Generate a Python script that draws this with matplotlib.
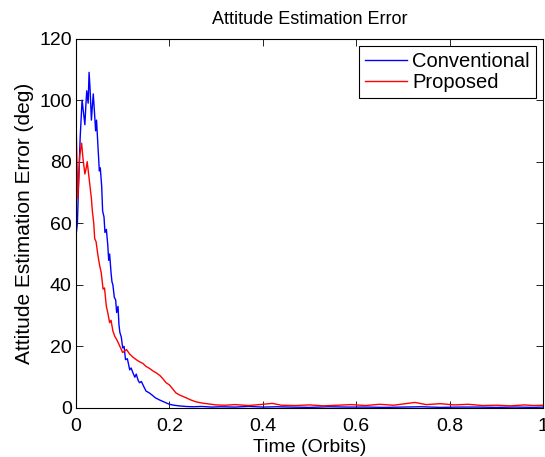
import numpy as np
import matplotlib.pyplot as plt

plt.rcParams['font.family'] = ['Liberation Sans', 'DejaVu Sans']

# Conventional (blue)
t_conv = [0.000, 0.003, 0.006, 0.009, 0.013, 0.016, 0.019, 0.021, 0.023, 0.026,
          0.028, 0.030, 0.033, 0.035, 0.037, 0.040, 0.042, 0.044, 0.047, 0.050,
          0.052, 0.055, 0.057, 0.060, 0.062, 0.065, 0.068, 0.070, 0.072, 0.075,
          0.077, 0.079, 0.082, 0.085, 0.087, 0.090, 0.092, 0.094, 0.097, 0.100,
          0.103, 0.106, 0.110, 0.115, 0.118, 0.122, 0.126, 0.129, 0.133, 0.136,
          0.140, 0.145, 0.150, 0.157, 0.163, 0.170, 0.179, 0.188, 0.200, 0.210,
          0.220, 0.235, 0.250, 0.270, 0.290, 0.310, 0.340, 0.370, 0.400, 0.430,
          0.460, 0.500, 0.540, 0.580, 0.620, 0.660, 0.700, 0.740, 0.780, 0.820,
          0.860, 0.900, 0.940, 0.980, 1.000]
e_conv = [56.0, 60.0, 75.0, 88.0, 100.0, 96.0, 92.0, 98.0, 103.0, 99.0,
          109.0, 104.0, 93.5, 98.0, 102.0, 95.0, 90.0, 93.5, 85.0, 77.0,
          78.0, 72.0, 64.0, 62.0, 57.0, 58.0, 53.0, 48.0, 50.0, 44.0,
          41.0, 40.0, 36.0, 35.0, 31.0, 33.0, 27.0, 24.5, 23.0, 19.5,
          20.0, 15.7, 16.0, 12.4, 13.0, 11.4, 10.0, 11.0, 9.0, 8.2,
          8.6, 7.0, 5.5, 4.9, 4.2, 3.3, 2.6, 2.0, 1.2, 0.9,
          0.7, 0.5, 0.4, 0.5, 0.3, 0.4, 0.3, 0.5, 0.3, 0.4,
          0.3, 0.2, 0.4, 0.3, 0.3, 0.2, 0.3, 0.4, 0.2, 0.3,
          0.3, 0.2, 0.3, 0.2, 0.3]

# Proposed (red)
t_prop = [0.000, 0.002, 0.004, 0.006, 0.008, 0.010, 0.012, 0.015, 0.019, 0.022,
          0.024, 0.027, 0.030, 0.033, 0.035, 0.038, 0.040, 0.043, 0.047, 0.051,
          0.054, 0.058, 0.061, 0.065, 0.068, 0.072, 0.075, 0.079, 0.083, 0.088,
          0.094, 0.100, 0.108, 0.115, 0.122, 0.129, 0.136, 0.143, 0.150, 0.158,
          0.165, 0.172, 0.180, 0.186, 0.193, 0.200, 0.207, 0.214, 0.222, 0.236,
          0.246, 0.257, 0.270, 0.285, 0.300, 0.320, 0.340, 0.370, 0.400, 0.420,
          0.440, 0.470, 0.500, 0.530, 0.560, 0.590, 0.620, 0.650, 0.680, 0.700,
          0.726, 0.750, 0.780, 0.810, 0.840, 0.870, 0.900, 0.930, 0.960, 0.980,
          1.000]
e_prop = [94.0, 80.0, 68.0, 75.0, 82.0, 84.0, 86.0, 81.0, 76.0, 78.0,
          80.0, 76.0, 72.0, 68.0, 64.0, 60.0, 55.0, 54.0, 49.5, 46.0,
          44.0, 38.6, 39.0, 33.0, 31.0, 27.7, 28.5, 25.0, 23.3, 22.0,
          20.0, 18.0, 19.0, 17.5, 16.5, 15.7, 15.0, 14.5, 13.5, 12.8,
          12.0, 11.4, 10.5, 9.5, 8.2, 7.5, 6.2, 4.9, 4.2, 3.3,
          2.6, 2.0, 1.6, 1.3, 1.0, 0.9, 1.1, 0.8, 1.2, 1.5,
          0.9, 0.8, 1.0, 0.7, 0.9, 1.1, 0.8, 1.2, 0.9, 1.3,
          1.8, 1.1, 1.4, 1.0, 1.2, 0.8, 0.9, 0.7, 1.0, 0.8,
          0.9]

fig = plt.figure(figsize=(5.45, 4.57), dpi=100)
ax = fig.add_axes([76/545, 49/457, 467/545, 369.5/457])

ax.plot(t_conv, e_conv, color='#0000ff', lw=1.0, label='Conventional')
ax.plot(t_prop, e_prop, color='#ff0000', lw=1.0, label='Proposed')

ax.set_xlim(0, 1)
ax.set_ylim(0, 120)
ax.set_xticks([0, 0.2, 0.4, 0.6, 0.8, 1])
ax.set_xticklabels(['0', '0.2', '0.4', '0.6', '0.8', '1'])
ax.set_yticks(range(0, 121, 20))
ax.tick_params(direction='in', top=True, right=True, length=5, width=0.6,
               labelsize=14)
ax.tick_params(axis='x', pad=7)
ax.tick_params(axis='y', pad=3)
for s in ax.spines.values():
    s.set_linewidth(0.8)

ax.set_xlabel('Time (Orbits)', fontsize=14, labelpad=3)
ax.set_ylabel('Attitude Estimation Error (deg)', fontsize=15, labelpad=4)
ax.set_title('Attitude Estimation Error', fontsize=13, pad=10.5)

leg = ax.legend(loc='upper right', fontsize=14.5, fancybox=False, framealpha=1,
                edgecolor='black', borderaxespad=0.35, handlelength=2.1,
                borderpad=0.3, labelspacing=0.1, handletextpad=0.25)
leg.get_frame().set_linewidth(0.8)

fig.savefig('out.png', dpi=100)
